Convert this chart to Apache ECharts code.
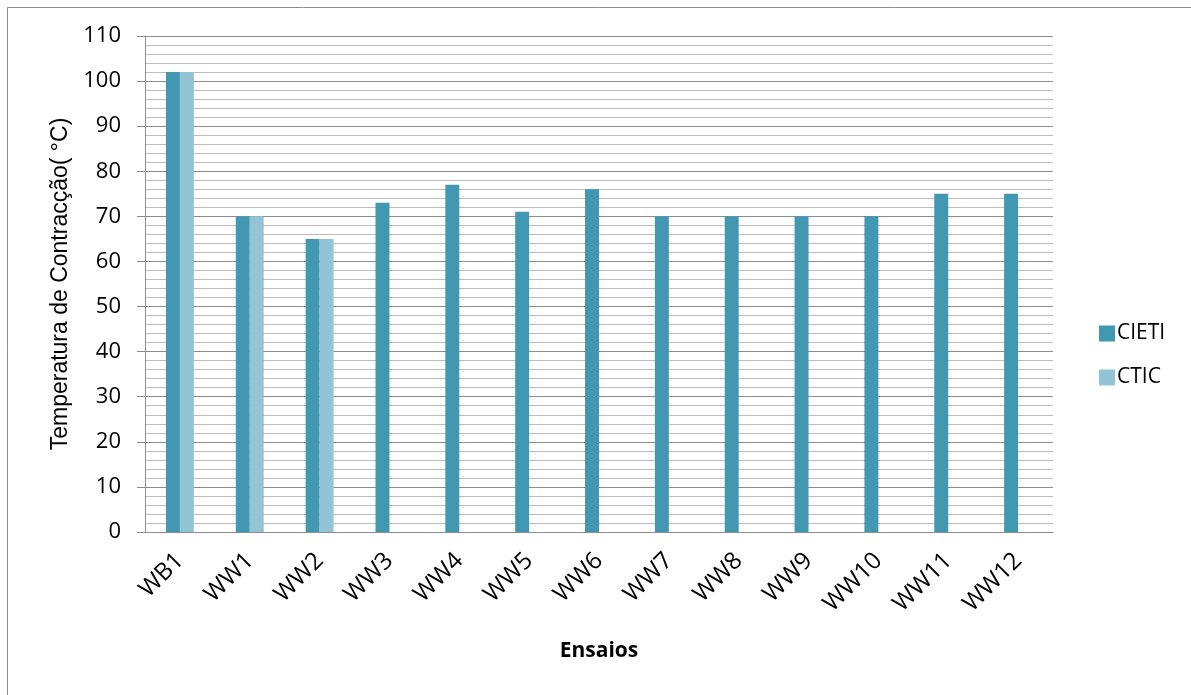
<!DOCTYPE html>
<html>
<head>
<meta charset="utf-8">
<script src="https://cdn.jsdelivr.net/npm/echarts@6/dist/echarts.min.js"></script>
<style>
  html, body { margin: 0; padding: 0; background: #fff; }
  #chart { width: 1191px; height: 695px; }
</style>
</head>
<body>
<div id="chart"></div>
<script>
// Ensaios e temperaturas de contracção (°C)
const categories = ['WB1', 'WW1', 'WW2', 'WW3', 'WW4', 'WW5', 'WW6', 'WW7', 'WW8', 'WW9', 'WW10', 'WW11', 'WW12'];
const cieti = [102, 70, 65, 73, 77, 71, 76, 70, 70, 70, 70, 75, 75];
const ctic = [102, 70, 65, null, null, null, null, null, null, null, null, null, null];
const yTicks = { min: 0, max: 110, step: 10 };

const chart = echarts.init(document.getElementById('chart'), null, { renderer: 'canvas' });

const labelFont = '"Open Sans", "Liberation Sans", sans-serif';

chart.setOption({
  animation: false,
  backgroundColor: '#ffffff',
  graphic: [{
    type: 'rect',
    shape: { x: 7.5, y: 7.5, width: 1300, height: 800 },
    style: { fill: 'none', stroke: '#8c8c8c', lineWidth: 1 },
    silent: true
  }],
  grid: { left: 145, right: 138, top: 36, bottom: 163, containLabel: false },
  legend: {
    orient: 'vertical',
    left: 1094,
    top: 318,
    itemWidth: 16,
    itemHeight: 16,
    itemGap: 23,
    icon: 'rect',
    textStyle: { fontFamily: labelFont, fontSize: 21, color: '#000', padding: [0, 0, 0, -3] },
    data: ['CIETI', 'CTIC']
  },
  xAxis: {
    type: 'category',
    data: categories,
    name: 'Ensaios',
    nameLocation: 'middle',
    nameGap: 109,
    nameTextStyle: { fontFamily: labelFont, fontWeight: 'bold', fontSize: 21, color: '#000' },
    axisLine: { show: true, lineStyle: { color: '#8c8c8c', width: 1 } },
    axisTick: { show: false },
    axisLabel: {
      rotate: 45,
      margin: 25,
      interval: 0,
      fontFamily: labelFont,
      fontSize: 24,
      color: '#000'
    },
    splitLine: { show: false }
  },
  yAxis: {
    type: 'value',
    min: yTicks.min,
    max: yTicks.max,
    interval: yTicks.step,
    name: 'Temperatura de Contracção( °C)',
    nameLocation: 'middle',
    nameGap: 71,
    nameRotate: 90,
    nameTextStyle: { fontFamily: '"Liberation Sans", Arial, sans-serif', fontSize: 23, color: '#000' },
    axisLine: { show: true, lineStyle: { color: '#8c8c8c', width: 1 } },
    axisTick: { show: true, inside: false, length: 8, lineStyle: { color: '#8c8c8c' } },
    axisLabel: { margin: 24, fontFamily: labelFont, fontSize: 22, color: '#000' },
    splitLine: { show: true, lineStyle: { color: '#8c8c8c', width: 1 } },
    minorTick: { show: false, splitNumber: 5 },
    minorSplitLine: { show: true, lineStyle: { color: '#bcbcbc', width: 1 } }
  },
  series: [
    {
      name: 'CIETI',
      type: 'bar',
      data: cieti,
      barWidth: '20%',
      barGap: '0%',
      itemStyle: { color: '#4298b0' }
    },
    {
      name: 'CTIC',
      type: 'bar',
      data: ctic,
      barWidth: '20%',
      barGap: '0%',
      itemStyle: { color: '#93c4d5' }
    }
  ]
});
</script>
</body>
</html>
